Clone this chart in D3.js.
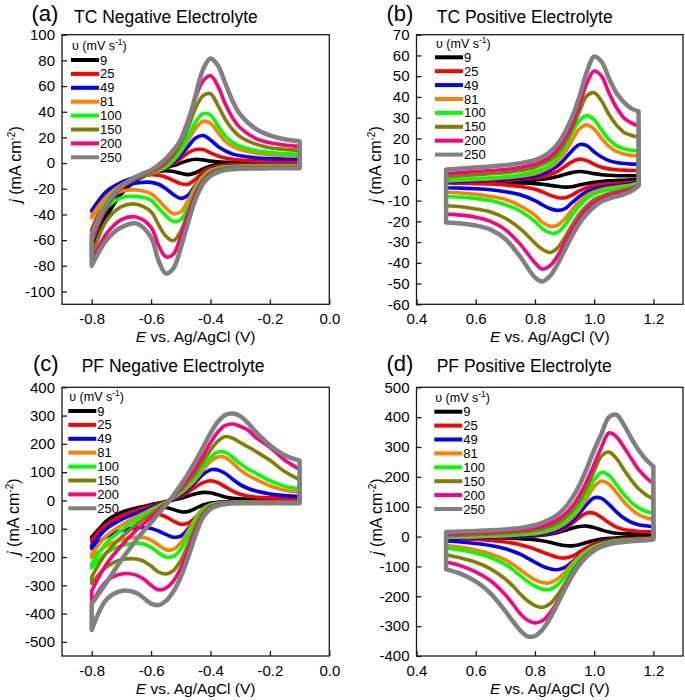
<!DOCTYPE html>
<html><head><meta charset="utf-8">
<script src="https://cdn.jsdelivr.net/npm/d3@7"></script>
<style>body{margin:0;background:#fff} text{font-family:"Liberation Sans",Arial,sans-serif;fill:#000}</style>
</head><body><svg id="c" width="685" height="700"></svg>
<script>
// ---------- shared ----------
const speeds = ["9","25","49","81","100","150","200","250"];
const palette = ["#000000","#ff0000","#0000ff","#ff8000","#00ff00","#808000","#ff0080","#808080"];

// ---------- (a) TC Negative Electrolyte ----------
const aE = [-0.8,-0.75,-0.7,-0.65,-0.6,-0.575,-0.55,-0.525,-0.5,-0.475,-0.45,-0.425,-0.4,-0.375,-0.35,-0.325,-0.3,-0.25,-0.2,-0.15,-0.1];
const aUp = [
 [-66,-40,-23,-13,-7.5,-5,-3.5,-2,0,2,3,2.5,1.5,1,0.7,0.5,0.4,0.3,0.3,0.3,0.3],
 [-52,-28,-16,-10.5,-7.5,-5.5,-3.5,-0.5,3.5,8,10.5,10.5,8,5.5,4,3,2.4,1.9,1.7,1.5,1.5],
 [-37,-22,-15,-11,-8,-6,-3.5,0.5,6,13,19.5,21.5,18,13,9.5,7,5.7,4.2,3.5,3.2,3],
 [-41,-26,-17,-11.5,-8,-6,-3,2,9,18,27,32.5,31,24,17,13,10.5,7.8,6.5,5.8,5.5],
 [-55,-30,-18,-12,-8,-5.5,-2.5,2.5,10.5,21,32,38.5,37.5,29,21,16,13,9.8,8.2,7.4,7],
 [-62,-34,-19,-12,-7.5,-4.5,-0.5,6,15,28,43,52.5,54,45,34,26,20.5,15,12,10.7,10],
 [-60,-34,-19,-11.5,-6.5,-3,1.5,8.5,19,34,51,64,68,60,46,35,27.5,19.5,15.8,14,13],
 [-56,-32,-18,-10.5,-5.5,-1.5,3.5,10,18,32,53,73,81.5,76,62,48,38,27,21.5,18.5,17]
];
const aDown = [
 [-68,-42,-24,-13.5,-8,-6.5,-6,-6.5,-8,-9,-7.5,-4.5,-2.3,-1.3,-0.9,-0.7,-0.6,-0.5,-0.5,-0.5,-0.5],
 [-55,-30,-17,-11,-9,-9.5,-11,-13.5,-16,-16.5,-12.5,-7,-3.8,-2.2,-1.5,-1.2,-1.1,-1,-1,-1,-1],
 [-37.5,-25,-18,-15.5,-15,-16.5,-20,-24.5,-27.5,-25,-17,-9.5,-5,-3.3,-2.5,-2,-1.8,-1.6,-1.5,-1.5,-1.5],
 [-42.5,-28,-22,-21,-24,-29,-35,-39.5,-38,-29,-18,-10,-5.5,-3.7,-2.9,-2.5,-2.3,-2.1,-2,-2,-2],
 [-60,-35,-27,-26,-29,-35,-41,-45.5,-44,-34,-21,-11.5,-6.5,-4.3,-3.3,-2.9,-2.7,-2.5,-2.5,-2.5,-2.5],
 [-73,-45,-34,-32,-38,-48,-57,-60.5,-53,-38,-23,-13,-7.5,-5,-4,-3.5,-3.3,-3.1,-3,-3,-3],
 [-77,-55,-44,-42,-50,-64,-73,-71,-57,-40,-24,-14,-8.5,-6,-4.8,-4.2,-3.9,-3.7,-3.6,-3.5,-3.5],
 [-80,-60,-50,-47,-58,-76,-86,-82,-66,-46,-28,-16,-10,-7,-5.5,-4.8,-4.4,-4.2,-4.1,-4,-4]
];
const aXTicks = [-0.8,-0.6,-0.4,-0.2,0.0];
const aYTicks = [100,80,60,40,20,0,-20,-40,-60,-80,-100];

// ---------- (b) TC Positive Electrolyte ----------
const bE = [0.5,0.55,0.6,0.65,0.7,0.75,0.8,0.825,0.85,0.875,0.9,0.925,0.95,0.975,1.0,1.025,1.05,1.075,1.1,1.125,1.15];
const bUp = [
 [-0.8,-0.8,-0.7,-0.6,-0.5,-0.3,0,0.3,0.8,1.6,2.6,3.5,4,3.7,3,2.5,2.2,2,2,2,2],
 [-1,-0.9,-0.7,-0.5,-0.2,0.3,1,1.6,2.6,4,6.3,8.7,10,9.3,7.5,6.1,5.3,4.9,4.7,4.5,4.5],
 [-1,-0.8,-0.5,-0.2,0.2,0.8,1.8,2.8,4.3,6.5,10,14,17,16.5,13.5,11,9.3,8.4,7.9,7.6,7.5],
 [-0.5,-0.2,0.2,0.5,1,1.8,3,4.3,6,8.8,13,19,24.5,26.5,24.5,20,16.2,13.8,12.5,11.8,11.5],
 [0,0.3,0.7,1,1.5,2.5,4,5.3,7.2,10.5,15.5,22.5,28.5,31,29,24,19.5,16.5,15,14.3,14],
 [1.5,2,2.5,3,3.5,4.5,6,7.5,9.5,12.5,17.5,24.5,33,40.5,42,38,31.5,26.5,23,21.5,20.5],
 [3,3.5,4,4.5,5,6,7.5,9,11,14.5,19.5,26.5,36,46.5,52.5,50,42,35,30,27.5,26],
 [5,5.5,6,6.5,7,8,9.5,11,13.5,17,22.5,30,40,52,59.5,57,49,42,37.5,34.5,33]
];
const bDown = [
 [-1,-1,-1.1,-1.2,-1.3,-1.5,-1.8,-2.1,-2.6,-3.1,-3.5,-3.3,-2.5,-1.8,-1.2,-0.8,-0.5,-0.3,-0.2,0,0.3],
 [-1.5,-1.6,-1.8,-2,-2.4,-3.2,-4.5,-5.8,-7.3,-8.5,-8.7,-7.3,-5.3,-3.8,-2.8,-2.2,-1.9,-1.7,-1.5,-1.3,-0.8],
 [-3.8,-4,-4.3,-4.8,-5.7,-7.2,-10,-12,-13.8,-14.7,-14,-11,-8,-5.7,-4.3,-3.5,-3,-2.7,-2.4,-2,-1],
 [-6,-6.3,-7,-8,-9.5,-12.5,-17,-20.5,-22.3,-22,-19,-14.5,-10.5,-7.5,-5.7,-4.6,-3.9,-3.4,-3,-2.5,-1.5],
 [-8,-8.3,-9,-10,-12,-15,-20,-23.5,-25.5,-25.5,-22,-17,-12.5,-9,-6.8,-5.5,-4.6,-4,-3.5,-3,-2],
 [-12.5,-13,-14,-15.5,-18.5,-23.5,-30.5,-33.5,-35,-33,-28,-22,-16.5,-12.5,-9.5,-7.8,-6.5,-5.6,-4.8,-4,-2.5],
 [-16.5,-17,-18,-20,-24,-31,-40,-43,-41.5,-37,-30.5,-24,-18.5,-14,-11,-9,-7.5,-6.5,-5.5,-4.5,-2.5],
 [-20.5,-21,-22,-24,-28.5,-37,-47,-49,-46.5,-41,-34,-27,-21,-16.5,-13,-10.5,-9,-8,-7,-5.5,-3]
];
const bXTicks = [0.4,0.6,0.8,1.0,1.2];
const bYTicks = [70,60,50,40,30,20,10,0,-10,-20,-30,-40,-50,-60];

// ---------- (c) PF Negative Electrolyte ----------
const cE = [-0.8,-0.75,-0.7,-0.65,-0.625,-0.6,-0.575,-0.55,-0.525,-0.5,-0.475,-0.45,-0.425,-0.4,-0.375,-0.35,-0.325,-0.3,-0.275,-0.25,-0.2,-0.15,-0.1];
const cUp = [
 [-130,-75,-45,-28,-21,-15,-9,-4,2,8,16,24,28.5,27,20,12,7.5,5.5,4.5,4,3.5,3,3],
 [-140,-85,-55,-35,-27,-20,-12,-4,5,15,30,48,63,69.5,63,48,33,22,16,12,9,7.5,7],
 [-160,-100,-68,-45,-35,-25,-15,-5,7,20,40,65,92,108,108,95,75,56,43,34,23,17,14],
 [-190,-125,-88,-58,-45,-32,-19,-6,9,26,48,75,108,138,154,152,132,108,90,76,52,36,29],
 [-225,-150,-105,-68,-53,-38,-22,-7,10,30,54,84,120,152,171,170,152,130,112,98,70,50,41],
 [-270,-185,-130,-85,-66,-48,-28,-9,12,36,64,98,138,178,210,226,220,205,190,175,142,102,73],
 [-320,-225,-160,-105,-82,-60,-35,-12,14,44,76,114,158,204,242,265,270,262,250,225,188,143,110],
 [-365,-290,-210,-140,-108,-78,-46,-16,18,55,95,140,188,238,278,302,307,298,275,245,195,160,141]
];
const cDown = [
 [-137,-72,-42,-27,-22,-20,-21,-25,-32,-40,-39,-28,-16,-9,-6,-4.5,-4,-3.5,-3.3,-3.2,-3,-3,-3],
 [-147,-85,-58,-45,-42,-43,-48,-58,-73,-84,-80,-60,-35,-18,-10,-7,-5.5,-5,-4.6,-4.4,-4.2,-4,-4],
 [-170,-128,-106,-97,-96,-99,-108,-120,-130,-126,-100,-62,-30,-14,-8.5,-6.5,-5.6,-5.2,-5,-4.8,-4.6,-4.5,-4.5],
 [-202,-160,-138,-130,-131,-140,-158,-174,-173,-150,-108,-62,-30,-15,-9.5,-7.5,-6.5,-6,-5.6,-5.3,-5,-5,-5],
 [-238,-185,-160,-151,-154,-166,-185,-200,-198,-172,-125,-72,-35,-17,-10.5,-8,-7,-6.5,-6,-5.7,-5.5,-5.5,-5.5],
 [-293,-235,-210,-207,-215,-232,-253,-260,-248,-212,-155,-92,-45,-22,-13,-10,-8.5,-7.5,-7,-6.5,-6,-6,-6],
 [-364,-285,-260,-264,-278,-300,-316,-310,-285,-240,-175,-105,-52,-25,-15,-11,-9.5,-8.5,-8,-7.5,-7,-7,-7],
 [-458,-350,-320,-327,-345,-365,-370,-355,-322,-270,-200,-122,-60,-30,-18,-13,-11,-10,-10,-10,-10,-10,-10]
];
const cXTicks = [-0.8,-0.6,-0.4,-0.2,0.0];
const cYTicks = [400,300,200,100,0,-100,-200,-300,-400,-500];

// ---------- (d) PF Positive Electrolyte ----------
const dE = [0.5,0.55,0.6,0.65,0.7,0.725,0.75,0.775,0.8,0.825,0.85,0.875,0.9,0.925,0.95,0.975,1.0,1.025,1.05,1.075,1.1,1.125,1.15,1.175,1.2];
const dUp = [
 [-2,-2,-1.5,-1,0,0.5,1,2,3,5,8,13,20,28,34,35,30,22,15,11,9.5,9,8.5,8,8],
 [-5,-4.5,-4,-3,-2,-1,0,1.5,3,5.5,10,17,28,44,64,79,78,64,46,32,24,20,17,16,15],
 [-6,-5,-4,-3,-1,0,1.5,3,5,8,13,21,33,52,78,108,130,128,108,83,62,48,40,36,33],
 [-3,-2,-1,1,3,4.5,6,8,10,14,20,29,43,63,92,128,168,186,175,148,117,92,74,63,57],
 [0,1,2,4,6,7.5,9,11,14,18,25,35,50,72,102,145,190,215,205,175,142,115,96,85,78],
 [4,5,7,9,12,13,15,18,21,26,34,45,62,86,118,165,220,270,283,262,225,190,160,140,125],
 [8,10,12,14,17,19,21,24,28,34,43,56,74,100,138,185,242,300,347,335,300,262,225,198,178],
 [15,17,19,21,24,26,29,33,38,46,57,72,95,128,172,228,290,345,400,408,375,330,290,258,235]
];
const dDown = [
 [-3,-3,-3.5,-4,-5,-6,-7,-8.5,-10.5,-14,-19,-25,-30,-31,-27,-20,-13,-8.5,-6,-4.5,-3.5,-3,-2.5,-2,-2],
 [-7,-8,-10,-13,-18,-22,-27,-34,-42,-52,-61,-69,-72,-66,-52,-37,-25,-17,-12,-9.5,-8,-7,-6,-5.5,-5],
 [-15,-18,-23,-30,-41,-49,-59,-72,-86,-99,-108,-111,-104,-86,-64,-45,-31,-22,-16,-12.5,-10.5,-9,-8,-7,-6],
 [-30,-36,-45,-58,-78,-93,-111,-129,-145,-154,-155,-143,-120,-92,-67,-47,-33,-24,-18,-14,-12,-10,-9,-7.5,-6],
 [-38,-45,-55,-70,-93,-110,-130,-150,-166,-176,-177,-163,-136,-104,-75,-52,-36,-26,-19,-15,-12.5,-11,-9.5,-8,-7],
 [-62,-72,-86,-108,-142,-165,-192,-215,-231,-237,-226,-198,-160,-120,-86,-60,-42,-30,-23,-18,-15,-13,-11,-9.5,-8],
 [-85,-98,-118,-148,-195,-225,-258,-280,-289,-282,-257,-218,-172,-128,-92,-64,-45,-33,-25,-20,-17,-15,-13,-11,-9],
 [-110,-125,-150,-190,-250,-283,-314,-334,-333,-312,-275,-228,-178,-132,-95,-67,-47,-34,-26,-21,-18,-16,-14,-12,-10]
];
const dXTicks = [0.4,0.6,0.8,1.0,1.2];
const dYTicks = [500,400,300,200,100,0,-100,-200,-300,-400];

// ---------- layout ----------
const panels = [
 {tag:"(a)", title:"TC Negative Electrolyte", E:aE, up:aUp, down:aDown, xd:[-0.9,0], yd:[-110,100], xt:aXTicks, yt:aYTicks,
  L:62, R:329.3, T:34.7, B:304.3, tagX:31.5, titleX:74, headY:22.5, yLabX:21, legX:71, legY:60},
 {tag:"(b)", title:"TC Positive Electrolyte", E:bE, up:bUp, down:bDown, xd:[0.4,1.3], yd:[-60,70], xt:bXTicks, yt:bYTicks,
  L:416.5, R:683, T:34.7, B:304.3, tagX:386.5, titleX:436.7, headY:22.5, yLabX:381, legX:435, legY:57.3},
 {tag:"(c)", title:"PF Negative Electrolyte", E:cE, up:cUp, down:cDown, xd:[-0.9,0], yd:[-550,400], xt:cXTicks, yt:cYTicks,
  L:62, R:329.3, T:387.3, B:656, tagX:33, titleX:81.7, headY:372, yLabX:19, legX:68.3, legY:411},
 {tag:"(d)", title:"PF Positive Electrolyte", E:dE, up:dUp, down:dDown, xd:[0.4,1.3], yd:[-400,500], xt:dXTicks, yt:dYTicks,
  L:416.5, R:683, T:387.3, B:656, tagX:386.5, titleX:436.7, headY:372, yLabX:382, legX:434.3, legY:411.7}
];

const svg = d3.select("#c");
const branch = d3.line().curve(d3.curveCatmullRom.alpha(0.5));

panels.forEach(p => {
  const g = svg.append("g");
  const x = d3.scaleLinear().domain(p.xd).range([p.L, p.R]);
  const y = d3.scaleLinear().domain(p.yd).range([p.B, p.T]);
  branch.x(d => x(d[0])).y(d => y(d[1]));

  // curves: smooth anodic branch, straight vertical at the turn, smooth cathodic branch back, straight close
  speeds.forEach((s, k) => {
    const upPts = p.E.map((e, i) => [e, p.up[k][i]]);
    const dnPts = p.E.map((e, i) => [e, p.down[k][i]]).reverse();
    const d = branch(upPts) + "L" + branch(dnPts).slice(1) + "Z";
    g.append("path").attr("d", d)
      .attr("fill", "none").attr("stroke", palette[k])
      .attr("stroke-width", k === 7 ? 4.5 : 3.6)
      .attr("stroke-linejoin", "round");
  });

  // frame
  g.append("rect").attr("x", p.L).attr("y", p.T).attr("width", p.R - p.L).attr("height", p.B - p.T)
    .attr("fill", "none").attr("stroke", "#1a1a1a").attr("stroke-width", 1.3);

  // axes
  const ax = g.append("g").attr("transform", `translate(0,${p.B})`)
    .call(d3.axisBottom(x).tickValues(p.xt).tickSizeInner(-5).tickSizeOuter(0).tickPadding(9)
      .tickFormat(d => d.toFixed(1)));
  const ay = g.append("g").attr("transform", `translate(${p.L},0)`)
    .call(d3.axisLeft(y).tickValues(p.yt).tickSizeInner(-5).tickSizeOuter(0).tickPadding(7)
      .tickFormat(d => String(d)));
  [ax, ay].forEach(a => {
    a.select(".domain").remove();
    a.selectAll(".tick line").attr("stroke", "#1a1a1a").attr("stroke-width", 1.3);
    a.selectAll(".tick text").attr("font-size", 15).attr("font-family", "Liberation Sans, Arial, sans-serif").attr("fill", "#000");
  });

  // panel tag and title
  g.append("text").attr("x", p.tagX).attr("y", p.headY - 1.5).attr("font-size", 22).text(p.tag);
  g.append("text").attr("x", p.titleX).attr("y", p.headY).attr("font-size", 17.5).text(p.title);

  // x axis title
  const xt = g.append("text").attr("x", (p.L + p.R) / 2).attr("y", p.B + 38).attr("text-anchor", "middle").attr("font-size", 15.5);
  xt.append("tspan").attr("font-style", "italic").text("E");
  xt.append("tspan").text(" vs. Ag/AgCl (V)");

  // y axis title
  const yt = g.append("text").attr("transform", `translate(${p.yLabX},${(p.T + p.B) / 2 - 5}) rotate(-90)`)
    .attr("text-anchor", "middle").attr("font-size", 16);
  yt.append("tspan").attr("font-style", "italic").text("j");
  yt.append("tspan").text(" (mA cm");
  yt.append("tspan").attr("font-size", 10).attr("dy", -6).text("-2");
  yt.append("tspan").attr("dy", 6).text(")");

  // legend
  const lg = g.append("g");
  const head = lg.append("text").attr("x", p.legX + 1).attr("y", p.legY - 14).attr("dy", "0.35em").attr("font-size", 12.5);
  head.append("tspan").text("υ (mV s");
  head.append("tspan").attr("font-size", 8.5).attr("dy", -5).text("-1");
  head.append("tspan").attr("dy", 5).text(")");
  speeds.forEach((s, k) => {
    const yy = p.legY + k * 13.9;
    lg.append("line").attr("x1", p.legX).attr("x2", p.legX + 28).attr("y1", yy).attr("y2", yy)
      .attr("stroke", palette[k]).attr("stroke-width", 4);
    lg.append("text").attr("x", p.legX + 29).attr("y", yy).attr("dy", "0.35em").attr("font-size", 13).text(s);
  });
});
</script></body></html>
